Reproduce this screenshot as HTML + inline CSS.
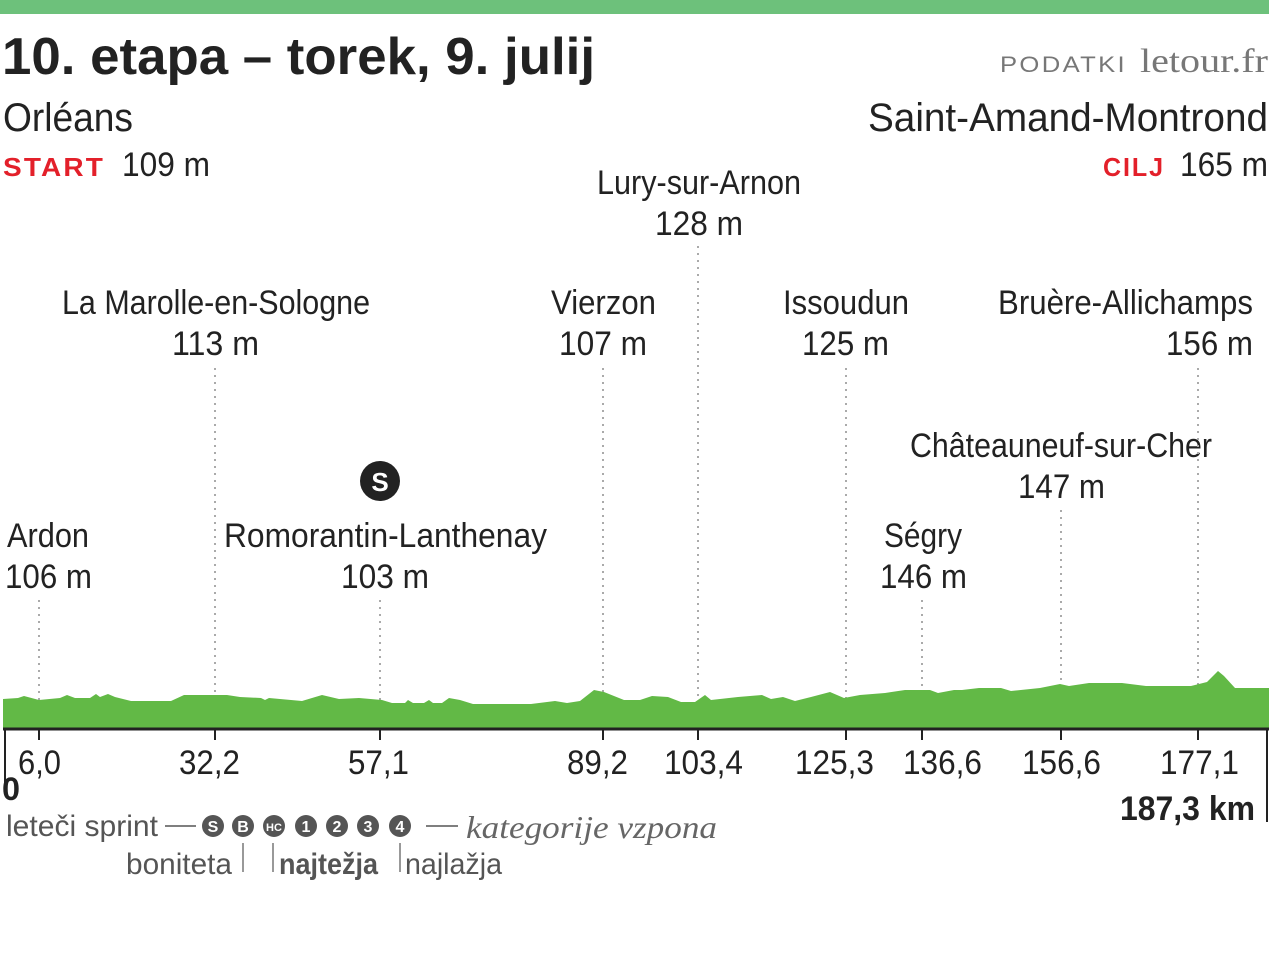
<!DOCTYPE html>
<html><head><meta charset="utf-8"><style>
body{margin:0;background:#fff;}
svg{display:block;font-family:"Liberation Sans",sans-serif;}
</style></head><body>
<svg width="1269" height="954" viewBox="0 0 1269 954" xmlns="http://www.w3.org/2000/svg">
<rect x="0" y="0" width="1269" height="14" fill="#6dc17b"/>
<text x="2" y="74" font-size="52" font-weight="bold" fill="#222" textLength="593" lengthAdjust="spacingAndGlyphs">10. etapa  – torek, 9. julij</text>
<text x="1000" y="72" font-size="22" letter-spacing="2" fill="#777" textLength="127" lengthAdjust="spacingAndGlyphs">PODATKI</text>
<text x="1140" y="72" font-size="34" font-family="Liberation Serif,serif" fill="#777" textLength="128" lengthAdjust="spacingAndGlyphs">letour.fr</text>
<text x="3" y="131" font-size="40" fill="#222" textLength="130" lengthAdjust="spacingAndGlyphs">Orléans</text>
<text x="3" y="176" font-size="26" font-weight="bold" letter-spacing="2" fill="#e3202a" textLength="102" lengthAdjust="spacingAndGlyphs">START</text>
<text x="122" y="176" font-size="34" fill="#222" textLength="88" lengthAdjust="spacingAndGlyphs">109 m</text>
<text x="868" y="131" font-size="40" fill="#222" textLength="400" lengthAdjust="spacingAndGlyphs">Saint-Amand-Montrond</text>
<text x="1103" y="176" font-size="26" font-weight="bold" letter-spacing="2" fill="#e3202a" textLength="62" lengthAdjust="spacingAndGlyphs">CILJ</text>
<text x="1180" y="176" font-size="34" fill="#222" textLength="88" lengthAdjust="spacingAndGlyphs">165 m</text>
<g fill="#222" font-size="34" lengthAdjust="spacingAndGlyphs">
<text x="597" y="194" textLength="204" lengthAdjust="spacingAndGlyphs">Lury-sur-Arnon</text><text x="655" y="235" textLength="88" lengthAdjust="spacingAndGlyphs">128 m</text>
<text x="62" y="314" textLength="308" lengthAdjust="spacingAndGlyphs">La Marolle-en-Sologne</text><text x="172" y="355" textLength="87" lengthAdjust="spacingAndGlyphs">113 m</text>
<text x="551" y="314" textLength="105" lengthAdjust="spacingAndGlyphs">Vierzon</text><text x="559" y="355" textLength="88" lengthAdjust="spacingAndGlyphs">107 m</text>
<text x="783" y="314" textLength="126" lengthAdjust="spacingAndGlyphs">Issoudun</text><text x="802" y="355" textLength="87" lengthAdjust="spacingAndGlyphs">125 m</text>
<text x="998" y="314" textLength="255" lengthAdjust="spacingAndGlyphs">Bruère-Allichamps</text><text x="1166" y="355" textLength="87" lengthAdjust="spacingAndGlyphs">156 m</text>
<text x="910" y="457" textLength="302" lengthAdjust="spacingAndGlyphs">Châteauneuf-sur-Cher</text><text x="1018" y="498" textLength="87" lengthAdjust="spacingAndGlyphs">147 m</text>
<text x="7" y="547" textLength="82" lengthAdjust="spacingAndGlyphs">Ardon</text><text x="5" y="588" textLength="87" lengthAdjust="spacingAndGlyphs">106 m</text>
<text x="224" y="547" textLength="323" lengthAdjust="spacingAndGlyphs">Romorantin-Lanthenay</text><text x="341" y="588" textLength="88" lengthAdjust="spacingAndGlyphs">103 m</text>
<text x="884" y="547" textLength="78" lengthAdjust="spacingAndGlyphs">Ségry</text><text x="880" y="588" textLength="87" lengthAdjust="spacingAndGlyphs">146 m</text>
</g>
<circle cx="380" cy="481" r="20" fill="#222"/>
<text x="380" y="491" font-size="26" fill="#fff" text-anchor="middle" font-weight="bold">S</text>
<g stroke="#aaa" stroke-width="2" stroke-dasharray="2,5">
<line x1="39" y1="600" x2="39" y2="728"/><line x1="215" y1="368" x2="215" y2="728"/>
<line x1="380" y1="600" x2="380" y2="728"/><line x1="603" y1="368" x2="603" y2="728"/>
<line x1="698" y1="246" x2="698" y2="728"/><line x1="846" y1="368" x2="846" y2="728"/>
<line x1="922" y1="600" x2="922" y2="728"/><line x1="1061" y1="510" x2="1061" y2="728"/>
<line x1="1198" y1="368" x2="1198" y2="728"/>
</g>
<path fill="#62b946" d="M3,728 L3,699 L18,698 L24,696 L39,700 L60,698 L67,695 L75,698 L90,698 L96,694 L100,697 L108,694 L115,697 L131,701 L171,701 L184,695 L227,695 L240,697 L261,698 L265,700 L269,698 L302,701 L322,695 L339,699 L359,698 L382,700 L392,703 L405,703 L408,700 L413,703 L424,703 L429,700 L433,703 L442,703 L449,698 L460,700 L473,704 L531,704 L555,701 L567,703 L580,701 L594,690 L604,692 L624,700 L640,700 L652,696 L668,697 L681,702 L695,702 L705,695 L711,700 L738,697 L762,695 L771,699 L783,697 L795,701 L811,697 L830,692 L844,698 L860,695 L885,693 L905,690 L930,690 L938,693 L954,690 L962,690 L979,688 L1001,688 L1011,691 L1040,688 L1060,684 L1069,686 L1089,683 L1122,683 L1146,686 L1191,686 L1207,682 L1218,671 L1224,676 L1235,688 L1269,688 L1269,728 Z"/>
<line x1="3" y1="729" x2="1269" y2="729" stroke="#222" stroke-width="3"/>
<line x1="5" y1="729" x2="5" y2="790" stroke="#222" stroke-width="2"/>
<line x1="1267" y1="729" x2="1267" y2="822" stroke="#222" stroke-width="2"/>
<g stroke="#222" stroke-width="2">
<line x1="39" y1="729" x2="39" y2="740"/><line x1="215" y1="729" x2="215" y2="740"/><line x1="380" y1="729" x2="380" y2="740"/><line x1="603" y1="729" x2="603" y2="740"/><line x1="698" y1="729" x2="698" y2="740"/><line x1="846" y1="729" x2="846" y2="740"/><line x1="922" y1="729" x2="922" y2="740"/><line x1="1061" y1="729" x2="1061" y2="740"/><line x1="1198" y1="729" x2="1198" y2="740"/>
</g>
<g fill="#222" font-size="34">
<text x="18" y="774" textLength="43" lengthAdjust="spacingAndGlyphs">6,0</text>
<text x="179" y="774" textLength="61" lengthAdjust="spacingAndGlyphs">32,2</text>
<text x="348" y="774" textLength="61" lengthAdjust="spacingAndGlyphs">57,1</text>
<text x="567" y="774" textLength="61" lengthAdjust="spacingAndGlyphs">89,2</text>
<text x="664" y="774" textLength="79" lengthAdjust="spacingAndGlyphs">103,4</text>
<text x="795" y="774" textLength="79" lengthAdjust="spacingAndGlyphs">125,3</text>
<text x="903" y="774" textLength="79" lengthAdjust="spacingAndGlyphs">136,6</text>
<text x="1022" y="774" textLength="79" lengthAdjust="spacingAndGlyphs">156,6</text>
<text x="1160" y="774" textLength="79" lengthAdjust="spacingAndGlyphs">177,1</text>
</g>
<text x="2" y="800" font-size="32" font-weight="bold" fill="#222" textLength="18" lengthAdjust="spacingAndGlyphs">0</text>
<text x="1120" y="820" font-size="34" font-weight="bold" fill="#222" textLength="135" lengthAdjust="spacingAndGlyphs">187,3 km</text>
<text x="6" y="836" font-size="30" fill="#555" textLength="152" lengthAdjust="spacingAndGlyphs">leteči sprint</text>
<line x1="165" y1="826" x2="196" y2="826" stroke="#555" stroke-width="1.5"/>
<g fill="#555">
<circle cx="213" cy="826" r="11"/><circle cx="243" cy="826" r="11"/><circle cx="274" cy="826" r="11"/><circle cx="306" cy="826" r="11"/><circle cx="337" cy="826" r="11"/><circle cx="368" cy="826" r="11"/><circle cx="400" cy="826" r="11"/>
</g>
<g fill="#fff" font-size="16" font-weight="bold" text-anchor="middle">
<text x="213" y="832">S</text><text x="243" y="832">B</text><text x="274" y="831" font-size="11">HC</text><text x="306" y="832">1</text><text x="337" y="832">2</text><text x="368" y="832">3</text><text x="400" y="832">4</text>
</g>
<line x1="426" y1="826" x2="458" y2="826" stroke="#555" stroke-width="1.5"/>
<text x="466" y="838" font-size="32" font-style="italic" font-family="Liberation Serif,serif" fill="#666" textLength="251" lengthAdjust="spacingAndGlyphs">kategorije vzpona</text>
<g stroke="#555" stroke-width="1.2">
<line x1="243" y1="843" x2="243" y2="872"/><line x1="273" y1="843" x2="273" y2="872"/><line x1="400" y1="843" x2="400" y2="872"/>
</g>
<text x="126" y="874" font-size="30" fill="#555" textLength="106" lengthAdjust="spacingAndGlyphs">boniteta</text>
<text x="279" y="874" font-size="30" font-weight="bold" fill="#555" textLength="99" lengthAdjust="spacingAndGlyphs">najtežja</text>
<text x="405" y="874" font-size="30" fill="#555" textLength="97" lengthAdjust="spacingAndGlyphs">najlažja</text>
</svg>
</body></html>
